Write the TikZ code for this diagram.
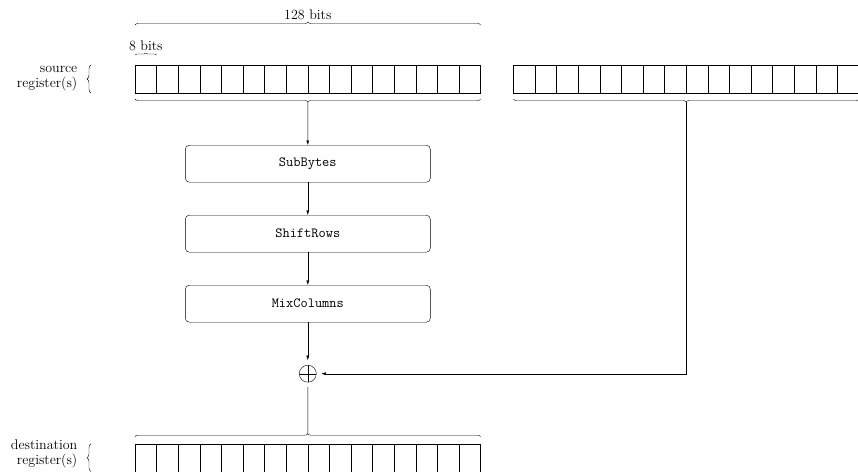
\documentclass[tikz,border=0pt]{standalone}
\usepackage{tikz}
\usetikzlibrary{arrows.meta, positioning, decorations.pathreplacing}

\begin{document}
\begin{tikzpicture}[x=1pt, y=-1pt, node distance=70pt, font=\fontsize{14}{15}\selectfont]
  \tikzstyle{cell} = [rectangle, draw=black, minimum width=21.6pt, minimum height=28pt, inner sep=0pt, outer sep=0pt]
  \tikzstyle{stage} = [rectangle, draw=black, rounded corners=4pt, minimum width=245pt, minimum height=37pt, font=\ttfamily\fontsize{14}{15}\selectfont]
  \tikzstyle{xorsym} = [circle, draw=black, minimum size=17pt, inner sep=0pt, outer sep=5pt,
    path picture={\draw (path picture bounding box.north) -- (path picture bounding box.south)
      (path picture bounding box.west) -- (path picture bounding box.east);}]
  \tikzstyle{reglabel} = [align=right, inner sep=0pt]
  \tikzstyle{regbrace} = [decorate, decoration={brace, amplitude=3pt}]
  \tikzstyle{flow} = [-{Latex[length=4.5pt, width=3pt]}]
  \useasboundingbox (0,0) rectangle (858,471);

  \foreach \i in {1,...,16} {
    \node[cell] (src\i) at ({135+21.6*(\i-0.5)}, 79) {};
    \node[cell] (key\i) at ({513.3+21.6*(\i-0.5)}, 79) {};
    \node[cell] (dst\i) at ({135+21.6*(\i-0.5)}, 457.7) {};
  }

  \node[reglabel, left=57.5pt of src1] (srclabel) {source\\register(s)};
  \node[reglabel, left=57.5pt of dst1, yshift=3.7pt] (dstlabel) {destination\\register(s)};
  \draw[regbrace, decoration={amplitude=4pt}] ([xshift=-44pt]src1.south west) -- ([xshift=-44pt]src1.north west);
  \draw[regbrace, decoration={amplitude=4pt}] ([xshift=-44pt]dst1.south west) -- ([xshift=-44pt]dst1.north west);

  \draw[regbrace] ([yshift=40pt]src1.north west) -- node[above=5pt, inner sep=0pt] (widthlabel) {128 bits} ([yshift=40pt]src16.north east);
  \draw[regbrace, decoration={amplitude=2pt}] ([yshift=10pt]src1.north west) -- node[above=4pt, inner sep=0pt] (bytelabel) {8 bits} ([yshift=10pt]src1.north east);
  \draw[regbrace] ([yshift=-6pt]src16.south east) -- ([yshift=-6pt]src1.south west);
  \draw[regbrace] ([yshift=-6pt]key16.south east) -- ([yshift=-6pt]key1.south west);
  \draw[regbrace] ([yshift=7pt]dst1.north west) -- ([yshift=7pt]dst16.north east);
  \coordinate (srctip) at ([yshift=-9pt]src8.south east);
  \coordinate (keytip) at ([yshift=-9pt]key8.south east);
  \coordinate (dsttip) at ([yshift=10pt]dst8.north east);

  \node[stage] (sub) at (307.8, 163.7) {SubBytes};
  \node[stage, below of=sub] (shift) {ShiftRows};
  \node[stage, below of=shift] (mix) {MixColumns};
  \node[xorsym, below of=mix] (xor) {};

  \draw[flow] (srctip) -- (sub);
  \draw[flow] (sub) -- (shift);
  \draw[flow] (shift) -- (mix);
  \draw[flow] (mix) -- (xor);
  \draw (xor) -- (dsttip);
  \draw[flow] (keytip) |- (xor);
\end{tikzpicture}
\end{document}
